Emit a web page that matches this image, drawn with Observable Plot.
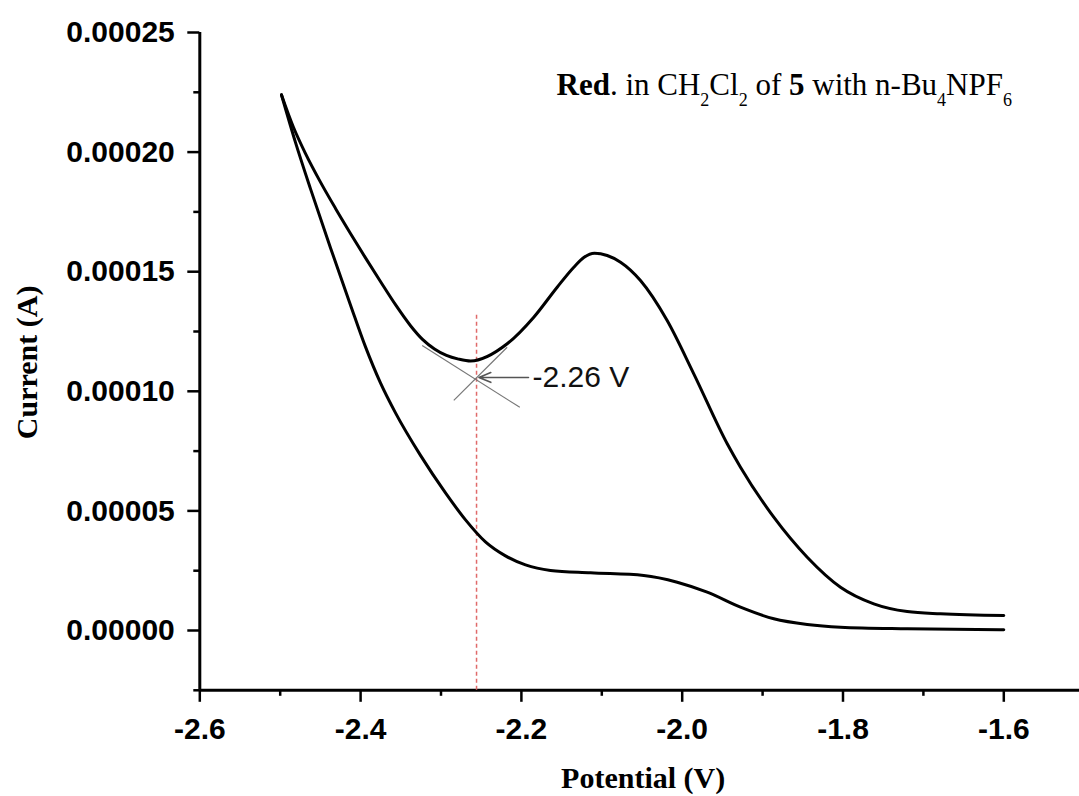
<!DOCTYPE html>
<html>
<head>
<meta charset="utf-8">
<script src="https://cdn.jsdelivr.net/npm/d3@7"></script>
<script src="https://cdn.jsdelivr.net/npm/@observablehq/plot@0.6"></script>
<style>
  html, body { margin: 0; padding: 0; background: #fff; overflow: hidden; }
</style>
</head>
<body>
<div id="chart"></div>
<script>
// ---- data ----
const upperV = [-2.4984, -2.4835, -2.4685, -2.4499, -2.4312, -2.4126, -2.3939, -2.3753, -2.3566, -2.3379, -2.3230, -2.3081, -2.2932, -2.2782, -2.2633, -2.2177, -2.1846, -2.1555, -2.1348, -2.1224, -2.1091, -2.0933, -2.0767, -2.0519, -2.0187, -1.9856, -1.9440, -1.9275, -1.8861, -1.8445, -1.8031, -1.7617, -1.7201, -1.6787, -1.6000];
const upperI = [2.2395e-4, 2.1040e-4, 1.9937e-4, 1.8745e-4, 1.7646e-4, 1.6601e-4, 1.5577e-4, 1.4590e-4, 1.3620e-4, 1.2742e-4, 1.2170e-4, 1.1768e-4, 1.1497e-4, 1.1346e-4, 1.1266e-4, 1.1986e-4, 1.3098e-4, 1.4352e-4, 1.5188e-4, 1.5594e-4, 1.5773e-4, 1.5677e-4, 1.5397e-4, 1.4632e-4, 1.2960e-4, 1.0731e-4, 7.805e-5, 6.827e-5, 4.737e-5, 3.064e-5, 1.810e-5, 1.116e-5, 7.94e-6, 6.98e-6, 6.27e-6];
const lowerV = [-2.4984, -2.4810, -2.4623, -2.4374, -2.4126, -2.3939, -2.3753, -2.3566, -2.3255, -2.2944, -2.2695, -2.2447, -2.2198, -2.1949, -2.1638, -2.1140, -2.0478, -2.0062, -1.9689, -1.9275, -1.8861, -1.8445, -1.8031, -1.7201, -1.6000];
const lowerI = [2.2395e-4, 2.0406e-4, 1.8462e-4, 1.5995e-4, 1.3612e-4, 1.1856e-4, 1.0351e-4, 9.097e-5, 7.320e-5, 5.753e-5, 4.624e-5, 3.704e-5, 3.119e-5, 2.742e-5, 2.513e-5, 2.412e-5, 2.299e-5, 2.019e-5, 1.601e-5, 9.74e-6, 4.89e-6, 2.51e-6, 1.38e-6, 7.1e-7, 2.9e-7];

const xTicksMajor = [-2.6, -2.4, -2.2, -2.0, -1.8, -1.6];
const xTicksMinor = [-2.5, -2.3, -2.1, -1.9, -1.7];
const yTicksMajor = [0, 0.00005, 0.00010, 0.00015, 0.00020, 0.00025];
const yTicksMinor = [-0.000025, 0.000025, 0.000075, 0.000125, 0.000175, 0.000225];

const onsetV = -2.2558;          // marked potential
const onsetI = 0.0001058;
const onsetLabel = "-2.26 V";
const tangentX1 = [-2.3234, -2.2841];
const tangentY1 = [0.0001191, 0.0000962];
const tangentX2 = [-2.2020, -2.2177];
const tangentY2 = [0.0000933, 0.0001184];
const arrowFromV = -2.1912;
const dashTopI = 0.000133;

const titleText = "Red. in CH2Cl2 of 5 with n-Bu4NPF6";
const xLabel = "Potential (V)";
const yLabel = "Current (A)";

// ---- tables ----
const upper = upperV.map((v, i) => ({v, i: upperI[i]}));
const lower = lowerV.map((v, i) => ({v, i: lowerI[i]}));
const tangents = tangentX1.map((x1, k) => ({x1, y1: tangentY1[k], x2: tangentX2[k], y2: tangentY2[k]}));

const yMin = -0.000025, yMax = 0.00025;
const sans = "Liberation Sans, Arial, sans-serif";
const serif = "Liberation Serif, Times New Roman, serif";

const chart = Plot.plot({
  width: 1079,
  height: 796,
  marginLeft: 199.3,
  marginRight: 0,
  marginTop: 32,
  marginBottom: 106.2,
  style: {background: "white", color: "black", overflow: "visible"},
  x: {domain: [-2.6, -2.6 + (1079 - 199.3) / 804], label: null},
  y: {domain: [yMin, yMax], label: null},
  marks: [
    // minor ticks
    Plot.axisX(xTicksMinor, {tickSize: 6, text: null, strokeWidth: 2.5, stroke: "black", label: null}),
    Plot.axisY(yTicksMinor, {tickSize: 6, text: null, strokeWidth: 2.5, stroke: "black", label: null}),
    // major ticks
    Plot.axisX(xTicksMajor, {tickSize: 12, tickPadding: 15, strokeWidth: 2.5, stroke: "black", fill: "black",
      tickFormat: d => d.toFixed(1), fontSize: 30, fontWeight: "bold", fontFamily: sans, label: null}),
    Plot.axisY(yTicksMajor, {tickSize: 12, tickPadding: 13, strokeWidth: 2.5, stroke: "black", fill: "black",
      tickFormat: d => d.toFixed(5), fontSize: 30, fontWeight: "bold", fontFamily: sans, label: null}),
    // axis lines
    Plot.ruleY([yMin], {strokeWidth: 3, stroke: "black"}),
    Plot.ruleX([-2.6], {strokeWidth: 3, stroke: "black"}),
    // dashed marker line
    Plot.ruleX([onsetV], {y1: yMin, y2: dashTopI, stroke: "#e06a6a", strokeWidth: 1.5, strokeDasharray: "4,3"}),
    // tangents
    Plot.link(tangents, {x1: "x1", y1: "y1", x2: "x2", y2: "y2", stroke: "#777", strokeWidth: 1.2}),
    // CV curves
    Plot.line(upper, {x: "v", y: "i", curve: "monotone-x", stroke: "black", strokeWidth: 3}),
    Plot.line(lower, {x: "v", y: "i", curve: "monotone-x", stroke: "black", strokeWidth: 3}),
    // arrow + label
    Plot.arrow([{x1: arrowFromV, x2: onsetV + 0.003, y: onsetI}], {x1: "x1", x2: "x2", y1: "y", y2: "y",
      stroke: "#555", strokeWidth: 1.6, headLength: 12, headAngle: 45}),
    Plot.text([onsetLabel], {x: arrowFromV, y: onsetI, dx: 4, textAnchor: "start", lineAnchor: "middle",
      fontSize: 30, fontFamily: sans, fill: "#111"}),
    // title annotation
    Plot.text([titleText], {x: -2.1563, y: 0.0002239, textAnchor: "start", lineAnchor: "bottom",
      fontSize: 31, fontFamily: serif, fill: "black"}),
    // axis titles
    Plot.text([yLabel], {frameAnchor: "left", dx: 36 - 199.3, dy: 1, rotate: -90, textAnchor: "middle", lineAnchor: "bottom",
      fontSize: 30, fontWeight: "bold", fontFamily: serif, fill: "black"}),
    Plot.text([xLabel], {frameAnchor: "bottom", dx: 3.5, dy: 98, textAnchor: "middle", lineAnchor: "bottom",
      fontSize: 30, fontWeight: "bold", fontFamily: serif, fill: "black"})
  ]
});

document.getElementById("chart").appendChild(chart);

// rich formatting (bold parts and subscripts) for the annotation title
const svgSel = d3.select(chart.tagName.toLowerCase() === "svg" ? chart : chart.querySelector("svg"));
svgSel.selectAll("text").filter(function () { return this.textContent === titleText; }).each(function () {
  const t = d3.select(this);
  t.text(null);
  const sub = 11, subSize = 18;
  const parts = [
    {s: "Red", b: true}, {s: ". in CH"}, {s: "2", sub: true}, {s: "Cl"}, {s: "2", sub: true},
    {s: " of "}, {s: "5", b: true}, {s: " with n-Bu"}, {s: "4", sub: true}, {s: "NPF"}, {s: "6", sub: true}
  ];
  let shifted = false;
  parts.forEach(p => {
    const ts = t.append("tspan").text(p.s);
    if (p.b) ts.attr("font-weight", "bold");
    if (p.sub) { ts.attr("font-size", subSize).attr("dy", shifted ? 0 : sub); shifted = true; }
    else if (shifted) { ts.attr("dy", -sub); shifted = false; }
  });
});
</script>
</body>
</html>
